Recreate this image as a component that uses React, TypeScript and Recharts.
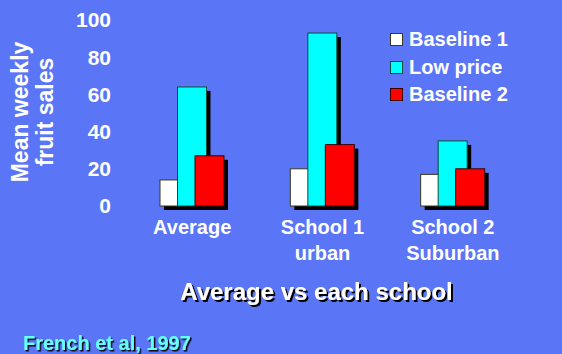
import React from 'react';
import { BarChart, Bar, XAxis, YAxis, Legend } from 'recharts';

const categories = ['Average', 'School 1\nurban', 'School 2\nSuburban'];
const baseline1 = [14, 20, 17];
const lowPrice = [64, 93, 35];
const baseline2 = [27, 33, 20];
const yTicks = [0, 20, 40, 60, 80, 100];

const series = [
  { key: 'b1', name: 'Baseline 1', fill: '#ffffff', stroke: '#3a3a1c' },
  { key: 'lp', name: 'Low price', fill: '#00ffff', stroke: '#0c4a3a' },
  { key: 'b2', name: 'Baseline 2', fill: '#ff0000', stroke: '#3a0000' },
];

const data = categories.map((cat, i) => ({
  cat,
  b1: baseline1[i],
  lp: lowPrice[i],
  b2: baseline2[i],
}));

const FONT = 'Arial, "Liberation Sans", sans-serif';
const BG = '#5a76f6';

const ShadowBar = (props: any) => {
  const { x, y, width, height, fill, stroke } = props;
  if (!height) return null;
  return (
    <g>
      <rect x={x + 4} y={y + 4} width={width} height={height} fill="#000" />
      <rect x={x} y={y} width={width} height={height} fill={fill} stroke={stroke} strokeWidth={1} />
    </g>
  );
};

const YTick = (props: any) => {
  const { x, y, payload } = props;
  return (
    <text x={x} y={y} dy="0.355em" textAnchor="end" fill="#fff" fontFamily={FONT} fontWeight="bold" fontSize={21}>
      {payload.value}
    </text>
  );
};

const XTick = (props: any) => {
  const { x, y, payload } = props;
  const lines = String(payload.value).split('\n');
  return (
    <g>
      {lines.map((l, i) => (
        <text key={i} x={x} y={y + 28 + i * 26} textAnchor="middle" fill="#fff" fontFamily={FONT} fontWeight="bold" fontSize={20}>
          {l}
        </text>
      ))}
    </g>
  );
};

const YTitle = () => (
  <g fontFamily={FONT} fontWeight="bold" fontSize={23} fill="#fff" textAnchor="middle">
    <text x={28} y={112} transform="rotate(-90, 28, 112)">Mean weekly</text>
    <text x={53} y={112} transform="rotate(-90, 53, 112)">fruit sales</text>
  </g>
);

// axis title and source note, both with a hard black drop shadow
const XTitle = (props: any) => {
  const vb = props.viewBox;
  const cx = vb.x + vb.width / 2 - 6;
  const by = vb.y + 94;
  return (
    <g fontFamily={FONT} fontWeight="bold">
      <defs>
        <filter id="hardShadow2" x="-10%" y="-20%" width="120%" height="150%">
          <feDropShadow dx="2" dy="2" stdDeviation="0" floodColor="#000" floodOpacity="1" />
        </filter>
        <filter id="hardShadow1" x="-10%" y="-20%" width="120%" height="150%">
          <feDropShadow dx="1.5" dy="1.5" stdDeviation="0" floodColor="#000" floodOpacity="1" />
        </filter>
      </defs>
      <text x={cx} y={by} textAnchor="middle" fontSize={24} fill="#fff" filter="url(#hardShadow2)">
        Average vs each school
      </text>
      <text x={23} y={350} fontSize={20} fill="#66ffff" filter="url(#hardShadow1)">
        French et al, 1997
      </text>
    </g>
  );
};

const LegendBox = () => (
  <div style={{ fontFamily: FONT, fontWeight: 'bold', fontSize: 20, color: '#fff' }}>
    {series.map((s) => (
      <div key={s.key} style={{ display: 'flex', alignItems: 'center', height: 27.5, whiteSpace: 'nowrap' }}>
        <div style={{ width: 11, height: 11, background: s.fill, border: `1px solid ${s.stroke}`, marginRight: 6 }} />
        <span>{s.name}</span>
      </div>
    ))}
  </div>
);

export default function App() {
  return (
    <div style={{ position: 'absolute', left: 0, top: 0, width: 562, height: 354, background: BG, overflow: 'hidden' }}>
      <BarChart
        width={562}
        height={354}
        data={data}
        margin={{ top: 20, right: 44, bottom: 0, left: 0 }}
        barSize={29}
        barGap={-11.5}
      >
        <XAxis
          dataKey="cat"
          height={148}
          axisLine={false}
          tickLine={false}
          tickSize={0}
          tickMargin={0}
          interval={0}
          tick={<XTick />}
          label={{ content: <XTitle /> }}
        />
        <YAxis
          width={127}
          domain={[0, 100]}
          ticks={yTicks}
          axisLine={false}
          tickLine={false}
          tickSize={6}
          tickMargin={10}
          tick={<YTick />}
          label={{ content: <YTitle /> }}
        />
        <Legend
          layout="vertical"
          verticalAlign="middle"
          align="center"
          content={<LegendBox />}
          wrapperStyle={{ position: 'absolute', top: 26, left: 390, width: 'auto', height: 'auto' }}
        />
        {series.map((s) => (
          <Bar
            key={s.key}
            dataKey={s.key}
            name={s.name}
            fill={s.fill}
            stroke={s.stroke}
            shape={<ShadowBar />}
            isAnimationActive={false}
          />
        ))}
      </BarChart>
    </div>
  );
}
